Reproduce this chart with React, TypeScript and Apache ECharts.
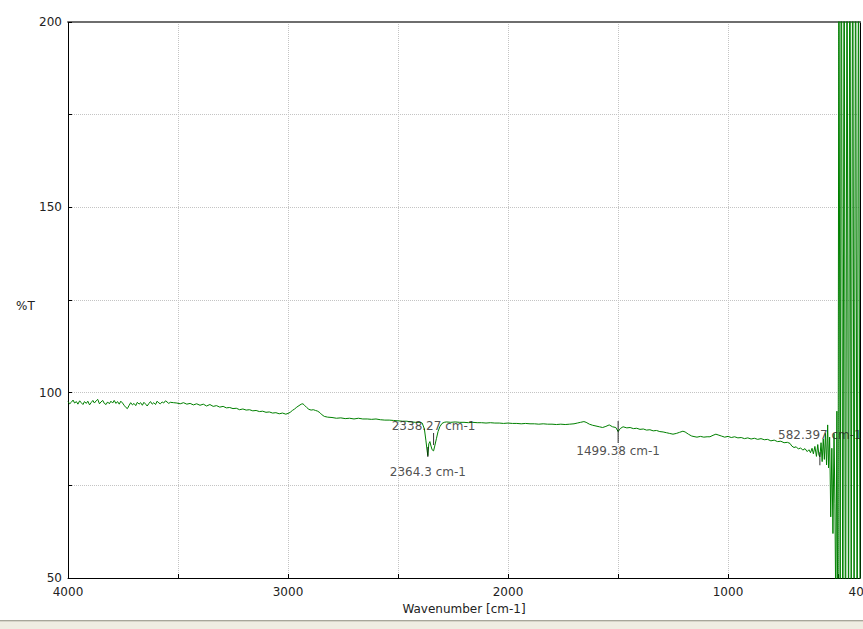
import { useEffect, useRef } from "react";
import * as echarts from "echarts";

// IR spectrum: [wavenumber (cm-1), %T]
const spectrum: [number, number][] = [
  [4000, 97.6], [3992, 97.0], [3985, 97.4], [3977, 98.0], [3970, 97.2], [3962, 97.6],
  [3955, 96.9], [3947, 97.8], [3940, 97.3], [3932, 96.8], [3925, 97.6], [3917, 97.1],
  [3910, 97.7], [3902, 96.7], [3895, 97.3], [3887, 97.9], [3880, 97.2], [3872, 97.8],
  [3865, 98.2], [3857, 97.0], [3850, 97.5], [3842, 97.9], [3835, 97.1], [3827, 96.8],
  [3820, 97.5], [3812, 97.0], [3805, 97.7], [3797, 97.2], [3790, 97.9], [3782, 97.1],
  [3775, 97.6], [3767, 96.9], [3760, 97.7], [3752, 97.2], [3745, 96.6], [3737, 96.0],
  [3730, 95.7], [3722, 96.6], [3715, 97.3], [3707, 96.7], [3700, 97.1], [3692, 96.5],
  [3685, 97.4], [3677, 96.9], [3670, 97.3], [3662, 96.6], [3655, 97.4], [3647, 96.9],
  [3640, 96.4], [3632, 97.1], [3625, 97.6], [3617, 96.9], [3610, 97.3], [3602, 96.8],
  [3595, 97.7], [3587, 97.2], [3580, 97.0], [3572, 97.5], [3565, 97.2], [3557, 97.8],
  [3550, 97.5], [3542, 97.1], [3535, 97.4], [3520, 97.3], [3505, 97.2], [3490, 97.0],
  [3475, 97.3], [3460, 96.9], [3445, 97.1], [3430, 96.7], [3415, 97.0], [3400, 96.6],
  [3385, 96.9], [3370, 96.4], [3355, 96.8], [3340, 96.3], [3325, 96.5], [3310, 96.1],
  [3295, 96.3], [3280, 95.9], [3265, 96.0], [3250, 95.7], [3235, 95.8], [3220, 95.4],
  [3205, 95.6], [3190, 95.3], [3175, 95.4], [3160, 95.1], [3145, 95.2], [3130, 94.9],
  [3115, 95.0], [3100, 94.7], [3085, 94.8], [3070, 94.5], [3055, 94.6], [3040, 94.3],
  [3025, 94.5], [3010, 94.2], [3000, 94.4], [2990, 94.7], [2980, 95.2], [2970, 95.6],
  [2960, 96.1], [2950, 96.5], [2940, 96.9], [2932, 97.0], [2925, 96.6], [2915, 96.0],
  [2905, 95.5], [2895, 95.3], [2885, 95.4], [2875, 95.2], [2865, 95.0], [2855, 94.6],
  [2845, 94.0], [2835, 93.6], [2820, 93.4], [2800, 93.3], [2780, 93.1], [2760, 93.2],
  [2740, 93.0], [2720, 93.1], [2700, 92.9], [2680, 93.1], [2660, 92.9], [2640, 92.9],
  [2620, 92.8], [2600, 92.9], [2580, 92.7], [2560, 92.6], [2540, 92.6], [2520, 92.5],
  [2500, 92.4], [2480, 92.3], [2460, 92.3], [2440, 92.1], [2420, 92.0], [2400, 92.0],
  [2390, 91.8], [2380, 90.2], [2373, 87.0], [2368, 84.5], [2364.3, 83.0], [2360, 86.2],
  [2355, 86.8], [2350, 85.6], [2345, 84.6], [2338.27, 84.3], [2333, 85.6], [2325, 87.7],
  [2318, 89.5], [2310, 90.8], [2300, 91.7], [2290, 92.0], [2280, 92.1], [2260, 92.0],
  [2240, 92.1], [2220, 92.0], [2200, 92.0], [2180, 91.9], [2160, 92.0], [2140, 91.9],
  [2120, 91.9], [2100, 91.8], [2080, 91.9], [2060, 91.8], [2040, 91.8], [2020, 91.7],
  [2000, 91.8], [1980, 91.7], [1960, 91.7], [1940, 91.6], [1920, 91.7], [1900, 91.6],
  [1880, 91.6], [1860, 91.5], [1840, 91.6], [1820, 91.5], [1800, 91.5], [1780, 91.4],
  [1760, 91.5], [1740, 91.4], [1720, 91.5], [1700, 91.6], [1685, 91.8], [1670, 92.0],
  [1655, 92.2], [1645, 92.0], [1630, 91.5], [1615, 91.2], [1600, 91.0], [1585, 90.8],
  [1570, 90.6], [1555, 90.9], [1540, 91.3], [1525, 90.8], [1510, 90.6], [1499.38, 89.5],
  [1490, 90.3], [1477, 90.8], [1460, 90.5], [1445, 90.6], [1430, 90.3], [1415, 90.4],
  [1400, 90.1], [1385, 90.2], [1370, 89.9], [1355, 90.0], [1340, 89.7], [1325, 89.8],
  [1310, 89.5], [1295, 89.4], [1280, 89.2], [1265, 89.0], [1250, 88.8], [1235, 89.0],
  [1220, 89.3], [1205, 89.6], [1195, 89.4], [1180, 88.8], [1165, 88.3], [1150, 88.1],
  [1141, 88.0], [1125, 88.2], [1110, 88.0], [1095, 88.1], [1082, 88.1], [1068, 88.5],
  [1055, 88.8], [1045, 88.6], [1030, 88.3], [1015, 88.0], [1000, 88.2], [985, 87.9],
  [970, 88.1], [955, 87.8], [940, 87.9], [925, 87.6], [910, 87.8], [895, 87.5],
  [880, 87.7], [865, 87.4], [850, 87.6], [835, 87.3], [820, 87.4], [805, 87.0],
  [790, 87.2], [775, 86.8], [760, 86.9], [745, 86.5], [730, 86.6], [718, 86.3],
  [710, 85.6], [700, 85.2], [690, 85.4], [680, 84.8], [670, 85.1], [660, 84.5],
  [650, 84.9], [640, 84.1], [632, 84.6], [625, 83.8], [618, 85.0], [612, 83.5],
  [605, 85.5], [598, 82.8], [592, 86.0], [587, 83.2], [582.397, 82.7], [577, 86.5],
  [572, 81.4], [567, 87.5], [562, 82.0], [557, 89.0], [552, 80.5], [547, 91.3],
  [543, 79.7], [538, 88.0], [533, 66.5], [528, 85.0], [523, 62.0], [518, 89.0],
  [514, 70.0], [510, 40.0], [505, 95.0], [500, 20.0], [496, 250.0], [490, 30.0],
  [485, 260.0], [478, 10.0], [472, 250.0], [466, 0.0], [459, 240.0], [452, 20.0],
  [446, 260.0], [440, 30.0], [433, 250.0], [427, 20.0], [420, 240.0], [413, 10.0],
  [407, 230.0], [400, 40.0],
];

// Peak annotations
const peakWavenumbers = [2364.3, 2338.27, 1499.38, 582.397];
const peakMarkerT = [84.0, 87.5, 89.4, 82.2];
const peakLabels = ["2364.3 cm-1", "2338.27 cm-1", "1499.38 cm-1", "582.397 cm-1"];
const peakLabelSide = ["bottom", "top", "bottom", "top"];
const peakTickLength = [10, 12, 22, 13];
const peakLabelGap = [9, 1, 2, 11];

// Axis ticks
const xTickLabels = [4000, 3000, 2000, 1000, 400];
const yTickLabels = [50, 100, 150, 200];

const FONT = "DejaVu Sans";

export default function App() {
  const ref = useRef<HTMLDivElement>(null);

  useEffect(() => {
    if (!ref.current) return;
    const chart = echarts.init(ref.current, null, { renderer: "svg" });

    const gridLine = { show: true, lineStyle: { color: "#c4c4c4", type: [1, 1] as any, width: 1 } };

    const annotations = peakWavenumbers.map((wn, i) => ({
      value: [wn, peakMarkerT[i]],
      name: peakLabels[i],
      symbolSize: [1, peakTickLength[i]],
      label: {
        show: true,
        position: peakLabelSide[i],
        distance: peakLabelGap[i],
        formatter: peakLabels[i],
        color: "#222",
        fontFamily: FONT,
        fontSize: 12,
      },
    }));

    chart.setOption({
      animation: false,
      backgroundColor: "#ffffff",
      grid: {
        left: 68,
        right: 3,
        top: 22,
        bottom: 51,
        containLabel: false,
        outerBoundsMode: "none",
      },
      xAxis: [
        {
          type: "value",
          min: 400,
          max: 4000,
          inverse: true,
          minInterval: 500,
          maxInterval: 500,
          position: "bottom",
          name: "Wavenumber [cm-1]",
          nameLocation: "middle",
          nameGap: 24,
          nameTextStyle: { color: "#222", fontFamily: FONT, fontSize: 12 },
          axisLine: { show: true, lineStyle: { color: "#000", width: 1 } },
          axisTick: { show: true, inside: true, length: 4, lineStyle: { color: "#000" } },
          axisLabel: {
            show: true,
            showMinLabel: true,
            showMaxLabel: true,
            margin: 8,
            color: "#222",
            fontFamily: FONT,
            fontSize: 12,
            formatter: (v: number) => (xTickLabels.includes(v) ? String(v) : ""),
          },
          splitLine: gridLine,
        },
        {
          type: "value",
          min: 400,
          max: 4000,
          inverse: true,
          position: "top",
          axisLine: { show: true, lineStyle: { color: "#6e6e6e", width: 2 } },
          axisTick: { show: false },
          axisLabel: { show: false },
          splitLine: { show: false },
        },
      ],
      yAxis: [
        {
          type: "value",
          min: 50,
          max: 200,
          interval: 25,
          position: "left",
          axisLine: { show: true, lineStyle: { color: "#000", width: 1 } },
          axisTick: { show: true, inside: true, length: 4, lineStyle: { color: "#000" } },
          axisLabel: {
            show: true,
            margin: 6,
            color: "#222",
            fontFamily: FONT,
            fontSize: 12,
            formatter: (v: number) => (yTickLabels.includes(v) ? String(v) : ""),
          },
          splitLine: gridLine,
        },
        {
          type: "value",
          min: 50,
          max: 200,
          interval: 25,
          position: "right",
          axisLine: { show: true, lineStyle: { color: "#000", width: 1 } },
          axisTick: { show: false },
          axisLabel: { show: false },
          splitLine: { show: false },
        },
      ],
      series: [
        {
          type: "line",
          data: spectrum,
          xAxisIndex: 0,
          yAxisIndex: 0,
          showSymbol: false,
          symbol: "none",
          clip: true,
          lineStyle: { color: "#008000", width: 1 },
          itemStyle: { color: "#008000" },
          z: 3,
        },
        {
          type: "scatter",
          data: annotations,
          xAxisIndex: 0,
          yAxisIndex: 0,
          symbol: "rect",
          itemStyle: { color: "#000" },
          silent: true,
          z: 5,
        },
      ],
      graphic: [
        {
          type: "text",
          left: 16,
          top: 300,
          style: { text: "%T", fill: "#222", font: `12px "${FONT}"` },
          silent: true,
        },
        { type: "rect", shape: { x: 0, y: 620, width: 863, height: 1 }, style: { fill: "#a7a69a" }, silent: true },
        { type: "rect", shape: { x: 0, y: 621, width: 863, height: 1 }, style: { fill: "#d6d4c8" }, silent: true },
        { type: "rect", shape: { x: 0, y: 622, width: 863, height: 7 }, style: { fill: "#efede2" }, silent: true },
      ],
    });

    return () => chart.dispose();
  }, []);

  return (
    <div
      ref={ref}
      style={{ position: "fixed", left: 0, top: 0, width: 863, height: 629 }}
    />
  );
}
